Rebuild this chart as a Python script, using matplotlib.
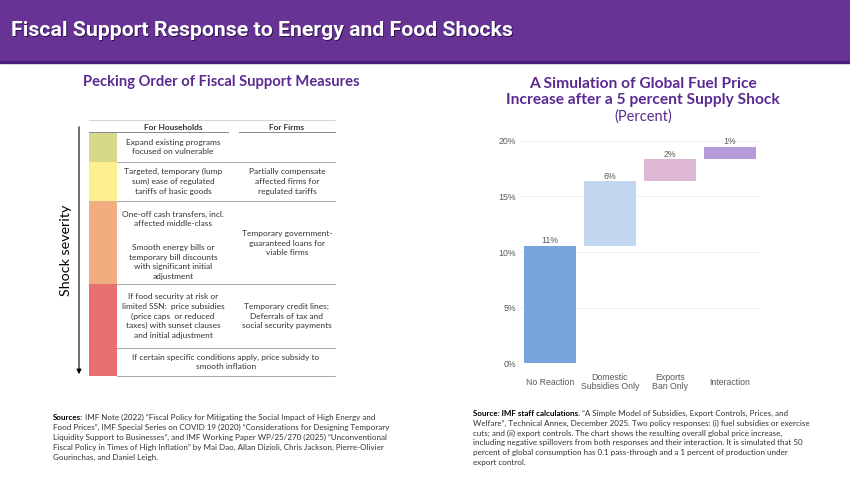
import numpy as np
import matplotlib.pyplot as plt
from matplotlib.patches import Rectangle

# ---- data ----
categories = ["No Reaction", "Domestic\nSubsidies Only", "Exports\nBan Only", "Interaction"]
increments = [10.55, 5.8, 2.0, 1.1]   # percent
bar_colors = ["#77A4DA", "#C3D6EF", "#DDB7D3", "#B79AD9"]
yticks = [0, 5, 10, 15, 20]

row_colors = ["#D5DA8B", "#FCEF8F", "#F0AE80", "#E87070"]
households = [
    "Expand existing programs\nfocused on vulnerable",
    "Targeted, temporary (lump\nsum) ease of regulated\ntariffs of basic goods",
    "One-off cash transfers, incl.\naffected middle-class",
    "If food security at risk or\nlimited SSN:  price subsidies\n(price caps  or reduced\ntaxes) with sunset clauses\nand initial adjustment",
]
firms = [
    "",
    "Partially compensate\naffected firms for\nregulated tariffs",
    "Temporary government-\nguaranteed loans for\nviable firms",
    "Temporary credit lines;\nDeferrals of tax and\nsocial security payments",
]
extra_household = "Smooth energy bills or\ntemporary bill discounts\nwith significant initial\nadjustment"
last_row = "If certain specific conditions apply, price subsidy to\nsmooth inflation"

left_src_bold = "Sources:"
left_src = [
    " IMF Note (2022) \u201cFiscal Policy for Mitigating the Social Impact of High Energy and",
    "Food Prices\u201d, IMF Special Series on COVID 19 (2020) \u201cConsiderations for Designing Temporary",
    "Liquidity Support to Businesses\u201d, and IMF Working Paper WP/25/270 (2025) \u201cUnconventional",
    "Fiscal Policy in Times of High Inflation\u201d by Mai Dao, Allan Dizioli, Chris Jackson, Pierre-Olivier",
    "Gourinchas, and Daniel Leigh.",
]
right_src_bold = "Source: IMF staff calculations."
right_src = [
    " \u201cA Simple Model of Subsidies, Export Controls, Prices, and",
    "Welfare\u201d, Technical Annex, December 2025. Two policy responses: (i) fuel subsidies or exercise",
    "cuts; and (ii) export controls. The chart shows the resulting overall global price increase,",
    "including negative spillovers from both responses and their interaction. It is simulated that 50",
    "percent of global consumption has 0.1 pass-through and a 1 percent of production under",
    "export control.",
]

PURPLE = "#5B2A91"
TXT = "#333333"
BODY = ["Lato", "DejaVu Sans"]
HEAD = ["Roboto", "DejaVu Sans"]
ARIAL = ["Liberation Sans", "DejaVu Sans"]

W, H = 850, 478
fig = plt.figure(figsize=(W / 100, H / 100), dpi=100)
fig.patch.set_facecolor("white")
renderer = fig.canvas.get_renderer()

# full-figure canvas in pixel coordinates for the slide decoration
bg = fig.add_axes([0, 0, 1, 1])
bg.set_xlim(0, W)
bg.set_ylim(H, 0)
bg.axis("off")

# header band
bg.add_patch(Rectangle((0, 0), W, 61, color="#673496", zorder=1))
bg.add_patch(Rectangle((0, 61), W, 2, color="#4A1F78", zorder=1))
title = "Fiscal Support Response to Energy and Food Shocks"
bg.text(12, 37, title, color="#2e1450", fontsize=15.3, fontweight="bold", family=HEAD,
        va="baseline", ha="left", zorder=2)
bg.text(11, 36, title, color="white", fontsize=15.3, fontweight="bold", family=HEAD,
        va="baseline", ha="left", zorder=3)

# ---- left panel: pecking order table ----
bg.text(221, 82, "Pecking Order of Fiscal Support Measures", color=PURPLE, fontsize=10.6,
        fontweight="bold", family=BODY, ha="center", va="center")

bounds = [132, 162, 201, 284, 376]
x0, x1, x2 = 89, 117, 335
hh_x, fm_x = 173, 287
fs = 6

bg.plot([x0, x2], [120, 120], color="#cccccc", lw=0.6)
bg.plot([x0, 228], [132, 132], color="#888888", lw=0.7)
bg.plot([239, x2], [132, 132], color="#888888", lw=0.7)
bg.text(hh_x, 127, "For Households", fontsize=fs, fontweight="bold", color=TXT,
        family=BODY, ha="center", va="center")
bg.text(fm_x, 127, "For Firms", fontsize=fs, fontweight="bold", color=TXT,
        family=BODY, ha="center", va="center")


def cell(x, y, s):
    bg.text(x, y, s, fontsize=fs, color=TXT, family=BODY, ha="center", va="center",
            linespacing=1.45)


for i, c in enumerate(row_colors):
    top, bot = bounds[i], bounds[i + 1]
    bg.add_patch(Rectangle((x0, top), x1 - x0, bot - top, color=c, lw=0))
    bg.plot([x1, x2], [bot, bot], color="#999999", lw=0.6)
    if i == 2:
        cell(hh_x, 219, households[i])
        cell(hh_x, 262, extra_household)
        cell(fm_x, 243, firms[i])
    elif i == 3:
        cell(hh_x, 316, households[i])
        cell(fm_x, 316, firms[i])
        bg.plot([x1, x2], [348, 348], color="#999999", lw=0.6)
        cell(226, 362, last_row)
    else:
        mid = (top + bot) / 2
        cell(hh_x, mid, households[i])
        if firms[i]:
            cell(fm_x, mid, firms[i])

bg.annotate("", xy=(79, 377), xytext=(79, 124),
            arrowprops=dict(arrowstyle="-|>", color="black", lw=0.8, mutation_scale=7))
bg.text(66, 250, "Shock severity", rotation=90, fontsize=10.3, color="black",
        family=BODY, ha="center", va="center")


def source_block(x, y, bold, lines, size=5.8, step=10):
    t = bg.text(x, y, bold, fontsize=size, fontweight="bold", color="black",
                family=BODY, ha="left", va="baseline")
    bb = t.get_window_extent(renderer=renderer)
    bg.text(x + bb.width, y, lines[0], fontsize=size, color=TXT, family=BODY,
            ha="left", va="baseline")
    for k, ln in enumerate(lines[1:], start=1):
        bg.text(x, y + k * step, ln, fontsize=size, color=TXT, family=BODY,
                ha="left", va="baseline")


source_block(53, 419.5, left_src_bold, left_src)
source_block(473, 415.5, right_src_bold, right_src)

# ---- right panel: waterfall ----
bg.text(643, 92, "A Simulation of Global Fuel Price\nIncrease after a 5 percent Supply Shock",
        color=PURPLE, fontsize=11.2, fontweight="bold", family=BODY, ha="center", va="center",
        linespacing=1.15)
bg.text(643, 117, "(Percent)", color=PURPLE, fontsize=10.5, family=BODY,
        ha="center", va="center")

ax = fig.add_axes([520 / W, 1 - 363.3 / H, 240 / W, 222.6 / H])
vals = np.array(increments)
bottoms = np.concatenate([[0], np.cumsum(vals)[:-1]])
x = np.arange(len(categories))
ax.bar(x, vals, bottom=bottoms, width=0.87, color=bar_colors, zorder=2)
for xi, b, v in zip(x, bottoms, vals):
    ax.text(xi, b + v + 0.05, f"{v:.0f}%", ha="center", va="bottom", fontsize=6.3,
            color="#595959", family=ARIAL)
ax.set_xlim(-0.5, 3.5)
ax.set_ylim(0, 20)
ax.set_yticks(yticks)
ax.set_yticklabels([f"{t}%" for t in yticks])
ax.set_xticks(x)
ax.set_xticklabels(categories, linespacing=1.05, va="center")
ax.grid(axis="y", color="#eeeeee", lw=0.6, zorder=0)
for s in ax.spines.values():
    s.set_visible(False)
ax.tick_params(length=0, labelsize=6.3, labelcolor="#595959")
ax.tick_params(axis="y", pad=3)
ax.tick_params(axis="x", pad=13.5)
for lab in ax.get_xticklabels() + ax.get_yticklabels():
    lab.set_family(ARIAL)

fig.savefig("out.png", dpi=100)
